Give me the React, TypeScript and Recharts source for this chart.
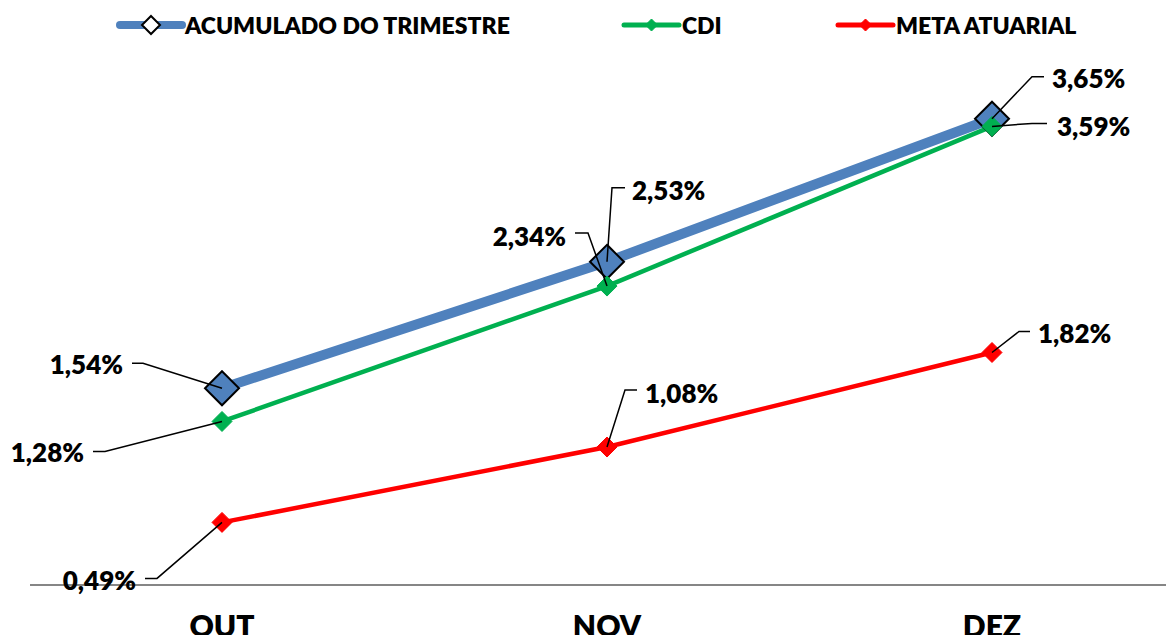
import { LineChart, Line, XAxis, YAxis, LabelList } from 'recharts'

// Rentabilidade acumulada do trimestre vs CDI vs meta atuarial (%)
const MONTHS = ['OUT', 'NOV', 'DEZ']
const ACUMULADO = [1.54, 2.53, 3.65]
const CDI = [1.28, 2.34, 3.59]
const META = [0.49, 1.08, 1.82]

const data = MONTHS.map((m, i) => ({ m, acum: ACUMULADO[i], cdi: CDI[i], meta: META[i] }))

const FONT = 'Lato, "Open Sans", sans-serif'

// leader-line callouts, relative to each point: elbow, line end, text anchor
type Callout = { elbow: [number, number]; end: [number, number]; tx: number; ty: number; anchor: 'start' | 'end' }

const CALLOUTS: Record<string, Callout[]> = {
  acum: [
    { elbow: [-79, -25], end: [-90, -25], tx: -99, ty: -24, anchor: 'end' },
    { elbow: [5, -74], end: [18, -74], tx: 25, ty: -72, anchor: 'start' },
    { elbow: [40, -42], end: [52, -42], tx: 60, ty: -41, anchor: 'start' },
  ],
  cdi: [
    { elbow: [-117, 30], end: [-129, 30], tx: -138, ty: 31, anchor: 'end' },
    { elbow: [-19, -53], end: [-32, -53], tx: -41, ty: -50, anchor: 'end' },
    { elbow: [40, -3], end: [55, -3], tx: 65, ty: 0, anchor: 'start' },
  ],
  meta: [
    { elbow: [-65, 56], end: [-77, 56], tx: -86, ty: 58, anchor: 'end' },
    { elbow: [18, -57], end: [30, -57], tx: 38, ty: -54, anchor: 'start' },
    { elbow: [27, -21], end: [38, -21], tx: 46, ty: -19, anchor: 'start' },
  ],
}

const SERIES = [
  { key: 'acum', name: 'ACUMULADO DO TRIMESTRE', color: '#4F81BD', width: 10, size: 17, outline: true },
  { key: 'cdi', name: 'CDI', color: '#00B050', width: 4.5, size: 10, outline: false },
  { key: 'meta', name: 'META ATUARIAL', color: '#FF0000', width: 4.5, size: 10, outline: false },
]

const fmt = (v: number) => `${v.toFixed(2).replace('.', ',')}%`

const diamond = (cx: number, cy: number, r: number) =>
  `M${cx},${cy - r}L${cx + r},${cy}L${cx},${cy + r}L${cx - r},${cy}Z`

function makeDot(s: (typeof SERIES)[number]) {
  return (p: any) => (
    <path
      key={`${s.key}-${p.index}`}
      d={diamond(p.cx, p.cy, s.size)}
      fill={s.color}
      stroke={s.outline ? '#000' : s.color}
      strokeWidth={s.outline ? 2 : 1}
    />
  )
}

function makeCallout(key: string) {
  return (p: any) => {
    const c = CALLOUTS[key][p.index]
    const x = Number(p.x)
    const y = Number(p.y)
    return (
      <g>
        <polyline
          points={`${x},${y} ${x + c.elbow[0]},${y + c.elbow[1]} ${x + c.end[0]},${y + c.end[1]}`}
          fill="none"
          stroke="#000"
          strokeWidth={1.5}
        />
        <text
          x={x + c.tx}
          y={y + c.ty}
          textAnchor={c.anchor}
          dominantBaseline="central"
          fontFamily={FONT}
          fontWeight={800}
          fontSize={26}
          fill="#000"
        >
          {fmt(Number(p.value))}
        </text>
      </g>
    )
  }
}

function MonthTick({ x, y, payload }: any) {
  return (
    <text x={x} y={y + 44} textAnchor="middle" fontFamily={FONT} fontWeight={800} fontSize={30} fill="#000">
      {payload.value}
    </text>
  )
}

// legend sample positions along the top row
const LEGEND_X = [120, 624, 838]

function Legend() {
  return (
    <svg width={1174} height={50} style={{ position: 'absolute', left: 0, top: 0 }}>
      {SERIES.map((s, i) => {
        const x0 = LEGEND_X[i]
        const len = s.outline ? 62 : 55
        const mid = x0 + len / 2
        return (
          <g key={s.key}>
            <line x1={x0} y1={25} x2={x0 + len} y2={25} stroke={s.color} strokeWidth={s.outline ? 8 : 5} strokeLinecap="round" />
            <path
              d={diamond(mid, 25, s.outline ? 9 : 6)}
              fill={s.outline ? '#fff' : s.color}
              stroke={s.outline ? '#000' : s.color}
              strokeWidth={s.outline ? 2 : 1}
            />
            <text x={x0 + len + 3} y={25} dominantBaseline="central" fontFamily={FONT} fontWeight={800} fontSize={23} fill="#000">
              {s.name}
            </text>
          </g>
        )
      })}
    </svg>
  )
}

export default function App() {
  return (
    <div style={{ position: 'relative', width: 1174, height: 643, overflow: 'hidden', margin: -8, background: '#fff' }}>
      <LineChart width={1184} height={643} data={data} margin={{ top: 74, right: 0, left: 30, bottom: 28 }}>
        <XAxis
          dataKey="m"
          height={30}
          padding={{ left: 192, right: 192 }}
          axisLine={{ stroke: '#868686', strokeWidth: 2 }}
          tickLine={false}
          tick={<MonthTick />}
          interval={0}
        />
        <YAxis hide width={0} domain={[0, 4]} />
        {SERIES.map((s) => (
          <Line
            key={s.key}
            dataKey={s.key}
            stroke={s.color}
            strokeWidth={s.width}
            dot={makeDot(s)}
            activeDot={false}
            isAnimationActive={false}
          />
        ))}
        {SERIES.map((s) => (
          <Line
            key={`${s.key}-labels`}
            dataKey={s.key}
            stroke="none"
            dot={false}
            activeDot={false}
            legendType="none"
            isAnimationActive={false}
          >
            <LabelList dataKey={s.key} content={makeCallout(s.key)} />
          </Line>
        ))}
      </LineChart>
      <Legend />
    </div>
  )
}
